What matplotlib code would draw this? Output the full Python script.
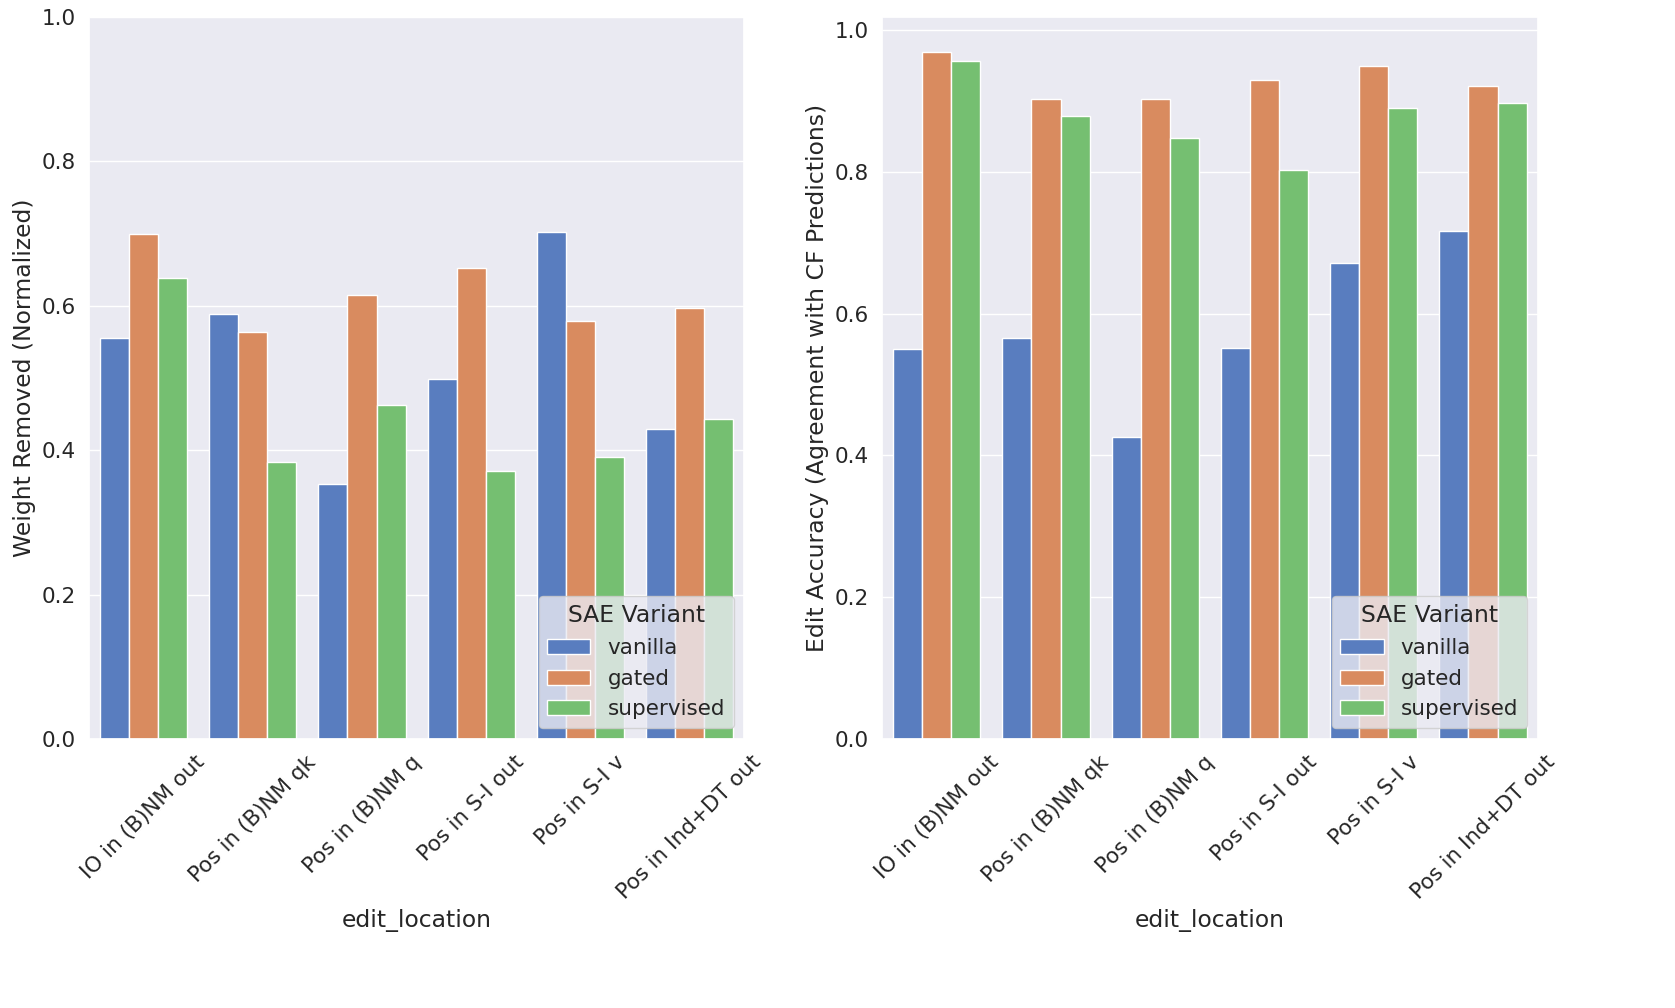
import numpy as np
import pandas as pd
import matplotlib
matplotlib.use('Agg')
import matplotlib.pyplot as plt
import seaborn as sns

locations = ['IO in (B)NM out', 'Pos in (B)NM qk', 'Pos in (B)NM q',
             'Pos in S-I out', 'Pos in S-I v', 'Pos in Ind+DT out']
variants = ['vanilla', 'gated', 'supervised']

# weight removed (normalized)
weight_vanilla = [0.556, 0.589, 0.353, 0.498, 0.702, 0.429]
weight_gated = [0.700, 0.564, 0.615, 0.653, 0.579, 0.597]
weight_supervised = [0.639, 0.383, 0.462, 0.371, 0.390, 0.443]

# edit accuracy
acc_vanilla = [0.550, 0.566, 0.426, 0.551, 0.671, 0.717]
acc_gated = [0.970, 0.903, 0.903, 0.930, 0.950, 0.921]
acc_supervised = [0.957, 0.879, 0.848, 0.803, 0.890, 0.897]


def to_frame(vals_by_variant, col):
    rows = []
    for var, vals in zip(variants, vals_by_variant):
        for loc, v in zip(locations, vals):
            rows.append({'edit_location': loc, 'SAE Variant': var, col: v})
    return pd.DataFrame(rows)


df_w = to_frame([weight_vanilla, weight_gated, weight_supervised], 'Weight Removed (Normalized)')
df_a = to_frame([acc_vanilla, acc_gated, acc_supervised], 'Edit Accuracy (Agreement with CF Predictions)')

sns.set_theme(style='darkgrid', font_scale=1.41)
fig, axes = plt.subplots(1, 2, figsize=(16.75, 10.08), dpi=100)

sns.barplot(data=df_w, x='edit_location', y='Weight Removed (Normalized)',
            hue='SAE Variant', palette='muted', ax=axes[0])
axes[0].set_ylim(0, 1)

sns.barplot(data=df_a, x='edit_location', y='Edit Accuracy (Agreement with CF Predictions)',
            hue='SAE Variant', palette='muted', ax=axes[1])

for ax in axes:
    ax.tick_params(axis='x', rotation=45)
    ax.legend(title='SAE Variant', loc='lower right')

plt.subplots_adjust(left=0.053, right=0.918, top=0.983, bottom=0.267, wspace=0.21)
plt.savefig('out.png')
